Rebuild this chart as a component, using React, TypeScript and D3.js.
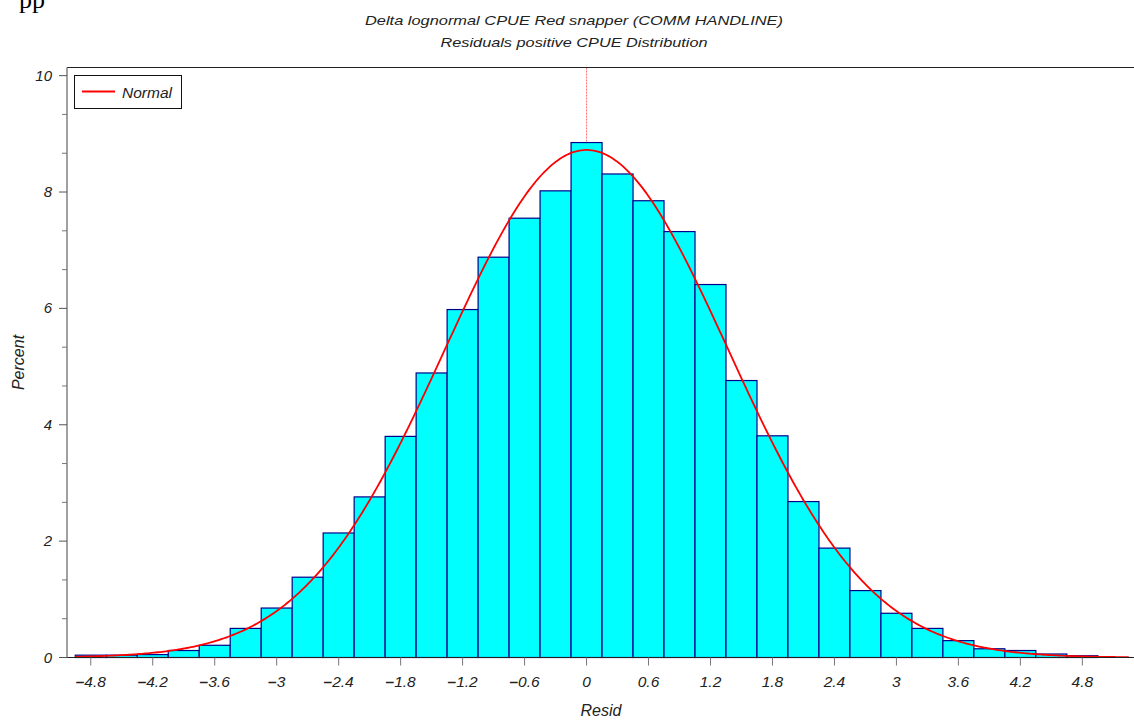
import React, { useRef, useEffect } from 'react'
import * as d3 from 'd3'

// bin midpoints (Resid) and percent per bin
const binMids = [
  -4.8, -4.5, -4.2, -3.9, -3.6, -3.3, -3.0, -2.7, -2.4, -2.1, -1.8, -1.5, -1.2, -0.9, -0.6, -0.3,
  0, 0.3, 0.6, 0.9, 1.2, 1.5, 1.8, 2.1, 2.4, 2.7, 3.0, 3.3, 3.6, 3.9, 4.2, 4.5, 4.8,
]
const percents = [
  0.04, 0.04, 0.05, 0.12, 0.21, 0.5, 0.85, 1.38, 2.14, 2.76, 3.8, 4.89, 5.98, 6.88, 7.55, 8.02,
  8.85, 8.31, 7.85, 7.32, 6.41, 4.76, 3.81, 2.68, 1.88, 1.15, 0.76, 0.5, 0.29, 0.15, 0.12, 0.06, 0.03,
]
const binWidth = 0.3

// fitted normal
const normalMu = 0
const normalSigma = 1.372
const curveRange = [-4.95, 5.26]

const xTicks = [-4.8, -4.2, -3.6, -3, -2.4, -1.8, -1.2, -0.6, 0, 0.6, 1.2, 1.8, 2.4, 3, 3.6, 4.2, 4.8]
const yTicks = [0, 2, 4, 6, 8, 10]

const titleLines = ['Delta lognormal CPUE Red snapper (COMM HANDLINE)', 'Residuals positive CPUE Distribution']

export default function App() {
  const svgRef = useRef<SVGSVGElement>(null)
  const width = 1134
  const height = 721

  useEffect(() => {
    if (!svgRef.current) return
    const svg = d3.select(svgRef.current)
    svg.selectAll('*').remove()

    const font = '"Liberation Sans", Arial, sans-serif'
    const left = 67
    const right = 1134
    const top = 67.5
    const bottom = 657.5

    const x = d3.scaleLinear().domain([-5.03, 5.3]).range([left, right])
    const y = d3.scaleLinear().domain([0, 10.14]).range([bottom, top])

    // page fragment at the very top (cut by the page edge in the original)
    svg.append('text')
      .attr('x', 19)
      .attr('y', 8)
      .attr('font-family', '"Liberation Serif", "Times New Roman", serif')
      .attr('font-size', 26)
      .attr('fill', '#000')
      .text('pp')

    // titles
    const titleWidths = [418, 267]
    titleLines.forEach((t, i) => {
      svg.append('text')
        .attr('x', 574)
        .attr('y', 25 + i * 22)
        .attr('text-anchor', 'middle')
        .attr('font-family', font)
        .attr('font-style', 'italic')
        .attr('font-size', 13.5)
        .attr('textLength', titleWidths[i])
        .attr('lengthAdjust', 'spacingAndGlyphs')
        .attr('fill', '#222')
        .text(t)
    })

    // reference line at mean
    svg.append('line')
      .attr('x1', x(normalMu))
      .attr('x2', x(normalMu))
      .attr('y1', top)
      .attr('y2', bottom)
      .attr('stroke', '#ff7070')
      .attr('stroke-width', 1)
      .attr('stroke-dasharray', '2,1')

    // histogram bars
    svg.append('g')
      .selectAll('rect')
      .data(binMids)
      .join('rect')
      .attr('x', (d) => x(d - binWidth / 2))
      .attr('y', (_, i) => y(percents[i]))
      .attr('width', (d) => x(d + binWidth / 2) - x(d - binWidth / 2))
      .attr('height', (_, i) => y(0) - y(percents[i]))
      .attr('fill', '#00ffff')
      .attr('stroke', '#00008b')
      .attr('stroke-width', 1.2)

    // normal curve
    const peak = (binWidth * 100) / (normalSigma * Math.sqrt(2 * Math.PI))
    const curvePts: [number, number][] = d3.range(curveRange[0], curveRange[1] + 0.001, 0.02).map((v) => [
      v,
      peak * Math.exp(-((v - normalMu) ** 2) / (2 * normalSigma * normalSigma)),
    ])
    svg.append('path')
      .attr('d', d3.line<[number, number]>().x((d) => x(d[0])).y((d) => y(d[1]))(curvePts))
      .attr('fill', 'none')
      .attr('stroke', '#ff0000')
      .attr('stroke-width', 1.8)

    // frame: top line, bottom axis, left axis
    svg.append('line')
      .attr('x1', left).attr('x2', right).attr('y1', top).attr('y2', top)
      .attr('stroke', '#222').attr('stroke-width', 1.2)
    svg.append('line')
      .attr('x1', left - 8).attr('x2', right).attr('y1', bottom).attr('y2', bottom)
      .attr('stroke', '#222').attr('stroke-width', 1.2)
    svg.append('line')
      .attr('x1', left).attr('x2', left).attr('y1', top).attr('y2', bottom)
      .attr('stroke', '#808080').attr('stroke-width', 1.5)

    // y ticks: major every 2, minor every 2/3
    d3.range(0, 10.01, 2 / 3).forEach((v) => {
      const isMajor = Math.abs(v - Math.round(v)) < 0.01 && Math.round(v) % 2 === 0
      svg.append('line')
        .attr('x1', isMajor ? left - 8 : left - 5)
        .attr('x2', left)
        .attr('y1', y(v))
        .attr('y2', y(v))
        .attr('stroke', isMajor ? '#555' : '#777')
        .attr('stroke-width', 1)
    })
    yTicks.forEach((v) => {
      svg.append('text')
        .attr('x', 52)
        .attr('y', y(v) + 5)
        .attr('text-anchor', 'end')
        .attr('font-family', font)
        .attr('font-style', 'italic')
        .attr('font-size', 15)
        .attr('fill', '#222')
        .text(String(v))
    })

    // x ticks
    xTicks.forEach((v) => {
      svg.append('line')
        .attr('x1', x(v)).attr('x2', x(v))
        .attr('y1', bottom).attr('y2', bottom + 8)
        .attr('stroke', '#777').attr('stroke-width', 1)
      const lbl = svg.append('text')
        .attr('x', x(v))
        .attr('y', 687)
        .attr('text-anchor', 'middle')
        .attr('font-family', font)
        .attr('font-style', 'italic')
        .attr('font-size', 15.5)
        .attr('fill', '#222')
      if (v < 0) {
        lbl.append('tspan').attr('font-weight', 'bold').text('\u2013')
        lbl.append('tspan').text(String(-v))
      } else {
        lbl.text(String(v))
      }
    })

    // axis labels
    svg.append('text')
      .attr('x', 601)
      .attr('y', 716)
      .attr('text-anchor', 'middle')
      .attr('font-family', font)
      .attr('font-style', 'italic')
      .attr('font-size', 16)
      .attr('fill', '#222')
      .text('Resid')
    svg.append('text')
      .attr('transform', `translate(24, ${(top + bottom) / 2}) rotate(-90)`)
      .attr('text-anchor', 'middle')
      .attr('font-family', font)
      .attr('font-style', 'italic')
      .attr('font-size', 16)
      .attr('fill', '#222')
      .text('Percent')

    // legend
    const legend = svg.append('g')
    legend.append('rect')
      .attr('x', 74.5).attr('y', 75.5).attr('width', 107).attr('height', 33)
      .attr('fill', 'white').attr('stroke', '#111').attr('stroke-width', 1)
    legend.append('line')
      .attr('x1', 82).attr('x2', 115).attr('y1', 91.5).attr('y2', 91.5)
      .attr('stroke', '#ff0000').attr('stroke-width', 2)
    legend.append('text')
      .attr('x', 122).attr('y', 97.5)
      .attr('font-family', font)
      .attr('font-style', 'italic')
      .attr('font-size', 15.5)
      .attr('fill', '#222')
      .text('Normal')
  }, [])

  return (
    <svg
      ref={svgRef}
      width={width}
      height={height}
      style={{ position: 'absolute', left: 0, top: 0, background: 'white' }}
    />
  )
}
